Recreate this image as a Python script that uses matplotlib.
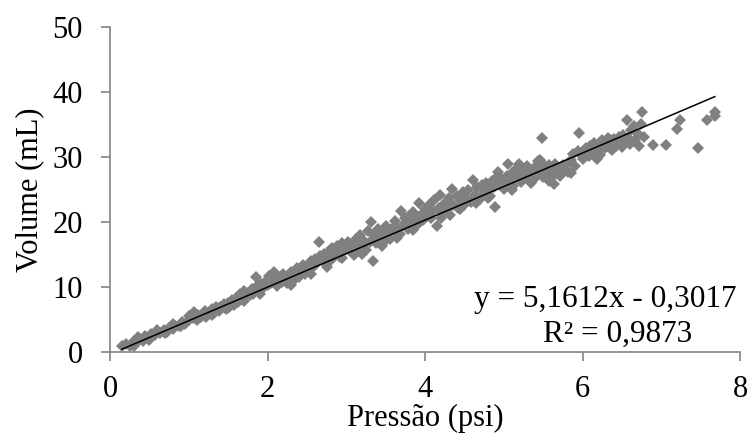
import matplotlib
matplotlib.use("Agg")
import matplotlib.pyplot as plt
import numpy as np

# pressure (psi) readings
pressure = [
    0.15, 0.2, 0.25, 0.3, 0.33, 0.38, 0.42, 0.45, 0.5, 0.52, 0.57, 0.6, 0.63, 0.68, 0.72, 0.75,
    0.8, 0.83, 0.88, 0.92, 0.95, 1.0, 0.3, 0.5, 0.7, 0.9, 0.35, 0.6, 0.8, 1.0,
    1.05, 1.06, 1.1, 1.12, 1.15, 1.2, 1.22, 1.25, 1.3, 1.32, 1.35, 1.38, 1.4, 1.45, 1.47, 1.5,
    1.52, 1.55, 1.58, 1.6, 1.62, 1.65, 1.67, 1.7, 1.72, 1.75, 1.78, 1.8, 1.82, 1.85, 1.87, 1.9,
    1.92, 1.95, 1.98, 2.0, 1.3, 1.5, 1.7, 1.9,
    2.02, 2.05, 2.08, 2.1, 2.12, 2.15, 2.18, 2.2, 2.22, 2.25, 2.28, 2.3, 2.32, 2.35, 2.38, 2.4,
    2.42, 2.45, 2.47, 2.5, 2.52, 2.55, 2.57, 2.6, 2.62, 2.65, 2.66, 2.7, 2.72, 2.75, 2.78, 2.8,
    2.82, 2.85, 2.88, 2.9, 2.92, 2.95, 2.98, 3.0, 2.3, 2.55, 2.75, 2.95,
    3.02, 3.05, 3.08, 3.1, 3.12, 3.15, 3.18, 3.2, 3.22, 3.25, 3.28, 3.3, 3.31, 3.34, 3.35, 3.38,
    3.4, 3.42, 3.45, 3.48, 3.5, 3.52, 3.55, 3.58, 3.6, 3.62, 3.65, 3.68, 3.7, 3.72, 3.75, 3.78,
    3.8, 3.82, 3.85, 3.88, 3.9, 3.92, 3.95, 3.98, 4.0, 3.2, 3.45, 3.65, 3.85,
    4.02, 4.05, 4.08, 4.1, 4.12, 4.15, 4.18, 4.19, 4.22, 4.25, 4.28, 4.3, 4.32, 4.34, 4.36, 4.4,
    4.42, 4.45, 4.48, 4.5, 4.52, 4.55, 4.58, 4.61, 4.63, 4.66, 4.7, 4.72, 4.75, 4.78, 4.8, 4.82,
    4.85, 4.88, 4.89, 4.9, 4.93, 4.95, 4.98, 5.0, 4.2, 4.45, 4.65, 4.8,
    5.02, 5.04, 5.06, 5.08, 5.1, 5.12, 5.15, 5.18, 5.19, 5.2, 5.22, 5.25, 5.28, 5.3, 5.32, 5.35,
    5.38, 5.4, 5.43, 5.45, 5.46, 5.48, 5.49, 5.5, 5.52, 5.55, 5.58, 5.6, 5.62, 5.64, 5.65, 5.68,
    5.7, 5.72, 5.75, 5.78, 5.8, 5.82, 5.85, 5.88, 5.9, 5.94, 5.96, 5.98, 6.0, 5.1, 5.35, 5.58, 5.85,
    6.02, 6.05, 6.08, 6.1, 6.12, 6.15, 6.18, 6.19, 6.21, 6.22, 6.25, 6.28, 6.3, 6.32, 6.34, 6.36,
    6.38, 6.4, 6.42, 6.44, 6.46, 6.48, 6.5, 6.52, 6.55, 6.57, 6.58, 6.6, 6.62, 6.65, 6.67, 6.7,
    6.72, 6.74, 6.75, 6.78, 6.89, 7.06, 7.2, 7.24, 7.46, 7.58, 7.68, 7.68,
]

# volume (mL) readings, same order as pressure
volume = [
    1.0, 1.3, 1.0, 1.8, 1.4, 2.1, 1.7, 2.5, 2.2, 2.8, 2.6, 3.2, 2.9, 3.4, 3.1, 3.8,
    3.6, 4.1, 4.0, 4.6, 4.3, 5.0, 1.0, 1.9, 2.9, 4.0, 2.3, 3.5, 4.3, 5.6,
    5.3, 6.2, 5.0, 5.8, 5.5, 6.3, 5.4, 6.0, 6.6, 6.1, 7.0, 6.4, 6.9, 7.4, 6.7, 7.6,
    7.1, 8.0, 7.3, 8.3, 7.8, 9.0, 8.2, 9.5, 8.6, 9.2, 8.8, 9.8, 9.0, 11.6, 10.2, 9.6,
    10.5, 10.0, 11.0, 10.4, 5.8, 6.8, 7.9, 8.9,
    11.8, 10.6, 12.3, 11.0, 10.2, 11.5, 10.8, 12.0, 11.2, 10.6, 11.8, 12.4, 11.0, 12.0, 13.0, 11.6,
    12.6, 13.4, 12.0, 13.2, 12.5, 14.0, 13.0, 14.4, 13.6, 16.9, 14.8, 14.0, 15.2, 14.5, 15.6, 14.2,
    16.0, 15.0, 16.4, 15.4, 14.6, 16.8, 15.8, 16.2, 10.4, 12.0, 13.2, 14.5,
    17.0, 15.6, 16.6, 15.0, 17.4, 16.0, 18.0, 16.5, 17.2, 15.8, 18.6, 17.0, 20.0, 14.0, 18.0, 16.8,
    19.0, 17.6, 18.4, 17.0, 19.4, 18.2, 17.5, 19.0, 18.6, 20.2, 19.2, 18.2, 21.8, 19.6, 20.6, 19.0,
    21.0, 20.0, 21.6, 20.4, 19.6, 23.0, 21.2, 20.4, 22.0, 15.2, 16.4, 17.6, 18.8,
    21.0, 22.6, 20.6, 21.8, 23.4, 19.5, 22.2, 24.2, 21.4, 23.0, 22.0, 23.8, 21.2, 25.1, 22.6, 24.0,
    22.2, 23.4, 24.6, 22.6, 23.8, 25.0, 23.2, 26.5, 24.2, 25.4, 23.6, 25.8, 24.6, 26.0, 25.0, 24.0,
    26.4, 25.4, 22.3, 26.8, 27.7, 25.8, 26.6, 25.2, 20.6, 22.0, 23.0, 23.8,
    26.0, 27.2, 29.0, 26.6, 27.6, 25.6, 28.2, 26.8, 29.0, 27.4, 26.2, 28.0, 27.0, 28.6, 26.6, 27.8,
    28.4, 26.8, 29.4, 27.6, 29.6, 28.2, 32.9, 27.0, 28.6, 27.4, 28.8, 26.8, 28.0, 25.9, 29.0, 27.6,
    28.4, 27.2, 28.8, 28.0, 29.0, 27.8, 29.6, 30.5, 28.6, 31.0, 33.8, 30.4, 29.8, 25.0, 26.0, 26.4, 27.6,
    30.8, 31.4, 30.2, 31.8, 30.6, 32.2, 31.0, 29.7, 32.0, 30.4, 32.6, 31.4, 32.2, 33.0, 31.6, 32.6,
    31.2, 32.8, 31.8, 32.0, 33.2, 32.2, 31.6, 33.4, 32.4, 35.8, 33.0, 32.0, 34.2, 34.8, 32.6, 33.6,
    31.8, 35.1, 36.9, 33.2, 31.9, 31.9, 34.3, 35.8, 31.4, 35.8, 36.9, 36.3,
]

# trendline as printed on the chart
slope = 5.1612
intercept = -0.3017
r_squared = 0.9873

x_ticks = [0, 2, 4, 6, 8]
y_ticks = [0, 10, 20, 30, 40, 50]

plt.rcParams['font.family'] = ['Liberation Serif', 'DejaVu Serif']

fig = plt.figure(figsize=(7.5, 4.37), dpi=100)
ax = fig.add_axes([0.1467, 0.1938, 0.84, 0.7437])

axis_grey = '#8c8c8c'
fs = 22

ax.plot(pressure, volume, linestyle='none', marker='D', markersize=6.0,
        color='#808080', markeredgewidth=0, zorder=2)

fit_x = np.array([min(pressure), max(pressure)])
ax.plot(fit_x, slope * fit_x + intercept, color='black', linewidth=1.1, zorder=3)

ax.set_xlim(0, 8)
ax.set_ylim(0, 50)
ax.set_xticks(x_ticks)
ax.set_yticks(y_ticks)

for side in ['top', 'right']:
    ax.spines[side].set_visible(False)
for side in ['left', 'bottom']:
    ax.spines[side].set_color(axis_grey)
    ax.spines[side].set_linewidth(1.3)

ax.tick_params(axis='both', direction='out', length=6.5, width=1.3, color=axis_grey,
               labelsize=fs, pad=13)
ax.tick_params(axis='x', pad=10)

ax.set_xlabel('Pressão (psi)', fontsize=fs, labelpad=0)
ax.set_ylabel('Volume (mL)', fontsize=fs, labelpad=6)

ax.text(0.994, 0.161, 'y = 5,1612x - 0,3017', transform=ax.transAxes,
        ha='right', va='center', fontsize=22.5)
ax.text(0.805, 0.056, 'R² = 0,9873', transform=ax.transAxes,
        ha='center', va='center', fontsize=22.5)

fig.savefig('out.png', dpi=100)
